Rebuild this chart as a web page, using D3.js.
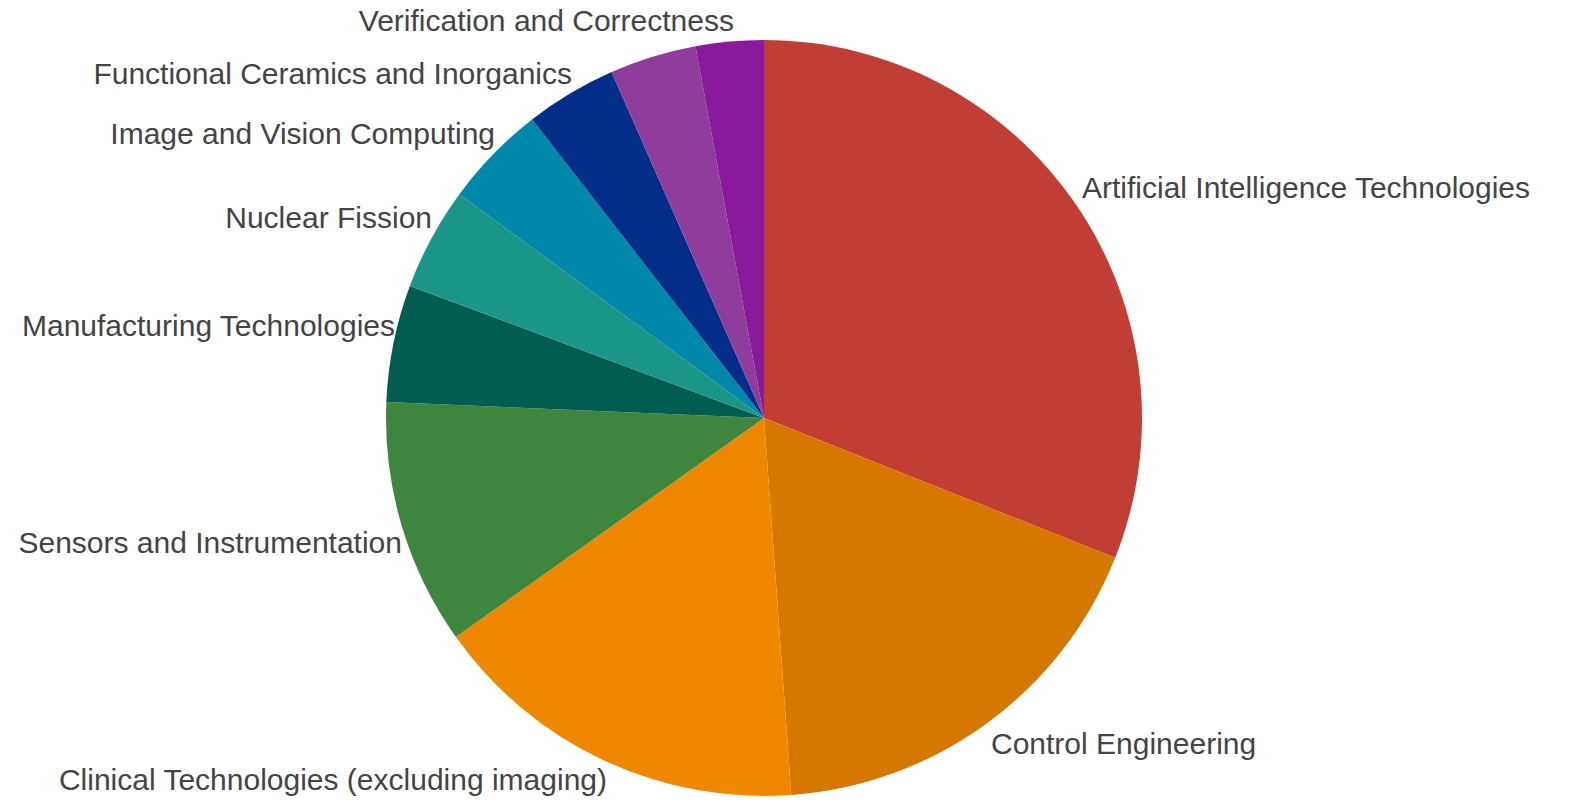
<!DOCTYPE html>
<html>
<head>
<meta charset="utf-8">
<script src="https://cdn.jsdelivr.net/npm/d3@7"></script>
<style>
  html, body { margin: 0; padding: 0; background: #fff; }
  svg { display: block; }
</style>
</head>
<body>
<svg id="chart" width="1575" height="805"></svg>
<script>
// ---- data ----
const categories = [
  "Artificial Intelligence Technologies",
  "Control Engineering",
  "Clinical Technologies (excluding imaging)",
  "Sensors and Instrumentation",
  "Manufacturing Technologies",
  "Nuclear Fission",
  "Image and Vision Computing",
  "Functional Ceramics and Inorganics",
  "Verification and Correctness",
  "Other"
];
const values = [31.0, 17.8, 16.3, 10.5, 5.0, 4.4, 4.4, 3.9, 3.7, 2.9];
const colors = ["#c23d33", "#d67700", "#ef8800", "#3e863e", "#035c50",
                "#1a9686", "#0088ab", "#022e87", "#903c9c", "#881a9b"];
const showLabel = [true, true, true, true, true, true, true, true, true, false];

// ---- layout (label placement) ----
const labelLayout = [
  { x: 1082, y: 187, anchor: "start" },
  { x: 991,  y: 743, anchor: "start" },
  { x: 607,  y: 779, anchor: "end" },
  { x: 402,  y: 542, anchor: "end" },
  { x: 395,  y: 325, anchor: "end" },
  { x: 432,  y: 217, anchor: "end" },
  { x: 495,  y: 133, anchor: "end" },
  { x: 572,  y: 73,  anchor: "end" },
  { x: 734,  y: 20,  anchor: "end" },
  null
];

const cx = 764, cy = 418, radius = 378;

const svg = d3.select("#chart");
const data = categories.map((c, i) => ({ name: c, value: values[i], color: colors[i], i }));

const pie = d3.pie().value(d => d.value).sort(null).startAngle(0).endAngle(2 * Math.PI);
const arc = d3.arc().innerRadius(0).outerRadius(radius);

const g = svg.append("g").attr("transform", `translate(${cx},${cy})`);
g.selectAll("path")
  .data(pie(data))
  .join("path")
  .attr("d", arc)
  .attr("fill", d => d.data.color);

svg.append("g")
  .selectAll("text")
  .data(data.filter(d => showLabel[d.i]))
  .join("text")
  .attr("x", d => labelLayout[d.i].x)
  .attr("y", d => labelLayout[d.i].y)
  .attr("dy", "0.35em")
  .attr("text-anchor", d => labelLayout[d.i].anchor)
  .attr("font-family", "Arial, 'Liberation Sans', sans-serif")
  .attr("font-size", 30)
  .attr("fill", "#444")
  .text(d => d.name);
</script>
</body>
</html>
